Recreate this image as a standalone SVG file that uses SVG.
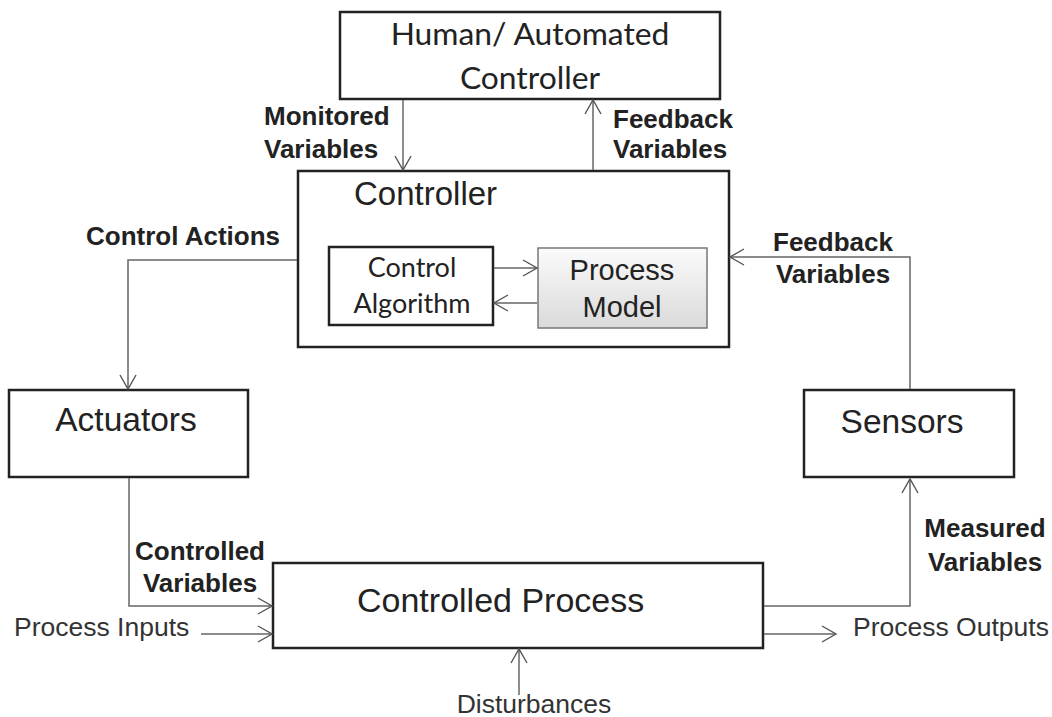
<svg xmlns="http://www.w3.org/2000/svg" width="1052" height="717" viewBox="0 0 1052 717">
<style>
.box{fill:#fff;stroke:#222;stroke-width:2.5}
.pm{fill:url(#pmg);stroke:#777;stroke-width:1.5}
.con{fill:none;stroke:#666;stroke-width:1.5;marker-end:url(#ah)}
.t{font-family:"Liberation Sans",Arial,sans-serif;fill:#222}
.c{font-family:Lato,"Liberation Sans",sans-serif;fill:#222}
.b{font-family:"Liberation Sans",Arial,sans-serif;font-weight:bold;font-size:26px;fill:#222}
.l{font-family:"Liberation Sans",Arial,sans-serif;font-size:26.5px;fill:#333}
.m{text-anchor:middle}
</style>
<defs>
<linearGradient id="pmg" x1="0" y1="0" x2="0" y2="1">
<stop offset="0" stop-color="#fbfbfb"/>
<stop offset="1" stop-color="#dadada"/>
</linearGradient>
<marker id="ah" markerUnits="userSpaceOnUse" markerWidth="18" markerHeight="20" refX="15" refY="9" orient="auto">
<path d="M1,1 L15,9 L1,17" fill="none" stroke="#555" stroke-width="1.4"/>
</marker>
</defs>

<g id="human-controller">
<rect class="box" x="340" y="12" width="380" height="87"/>
<text class="c m" x="530" y="45" font-size="31.8">Human/ Automated</text>
<text class="c m" x="530" y="89" font-size="31.8">Controller</text>
</g>

<g id="controller">
<rect class="box" x="298" y="171" width="431" height="176"/>
<text class="t" x="354" y="205" font-size="33">Controller</text>
</g>

<g id="control-algorithm">
<rect class="box" x="329" y="247" width="164" height="78" stroke-width="2"/>
<text class="c m" x="412" y="277" font-size="27">Control</text>
<text class="c m" x="412" y="313" font-size="27">Algorithm</text>
</g>

<g id="process-model">
<rect class="pm" x="538" y="248" width="169" height="80"/>
<text class="t m" x="622" y="280" font-size="29">Process</text>
<text class="t m" x="622" y="317" font-size="29">Model</text>
</g>

<g id="actuators">
<rect class="box" x="9" y="390" width="239" height="87"/>
<text class="t m" x="126" y="431" font-size="33.5">Actuators</text>
</g>

<g id="sensors">
<rect class="box" x="804" y="390" width="210" height="87"/>
<text class="t m" x="902" y="433" font-size="33.5">Sensors</text>
</g>

<g id="controlled-process">
<rect class="box" x="273" y="563" width="490" height="85"/>
<text class="t" x="357" y="612" font-size="34">Controlled Process</text>
</g>

<g id="connectors">
<path class="con" d="M403,100 V170"/>
<path class="con" d="M593,170 V100"/>
<path class="con" d="M297,260 H128 V389"/>
<path class="con" d="M910,389 V257 H730"/>
<path class="con" d="M129,478 V606 H272"/>
<path class="con" d="M201,634 H272"/>
<path class="con" d="M519,695 V649"/>
<path class="con" d="M764,606 H910 V479"/>
<path class="con" d="M764,634 H836"/>
<path class="con" d="M494,268 H537"/>
<path class="con" d="M537,303 H494"/>
</g>

<g id="labels">
<text class="b" x="264" y="125">Monitored</text>
<text class="b" x="264" y="158">Variables</text>
<text class="b" x="613" y="128">Feedback</text>
<text class="b" x="613" y="158">Variables</text>
<text class="b" x="86" y="245">Control Actions</text>
<text class="b m" x="833" y="251">Feedback</text>
<text class="b m" x="833" y="283">Variables</text>
<text class="b m" x="200" y="560">Controlled</text>
<text class="b m" x="200" y="592">Variables</text>
<text class="b m" x="985" y="537">Measured</text>
<text class="b m" x="985" y="571">Variables</text>
<text class="l" x="14" y="636">Process Inputs</text>
<text class="l" x="853" y="636">Process Outputs</text>
<text class="l m" x="534" y="713">Disturbances</text>
</g>
</svg>
